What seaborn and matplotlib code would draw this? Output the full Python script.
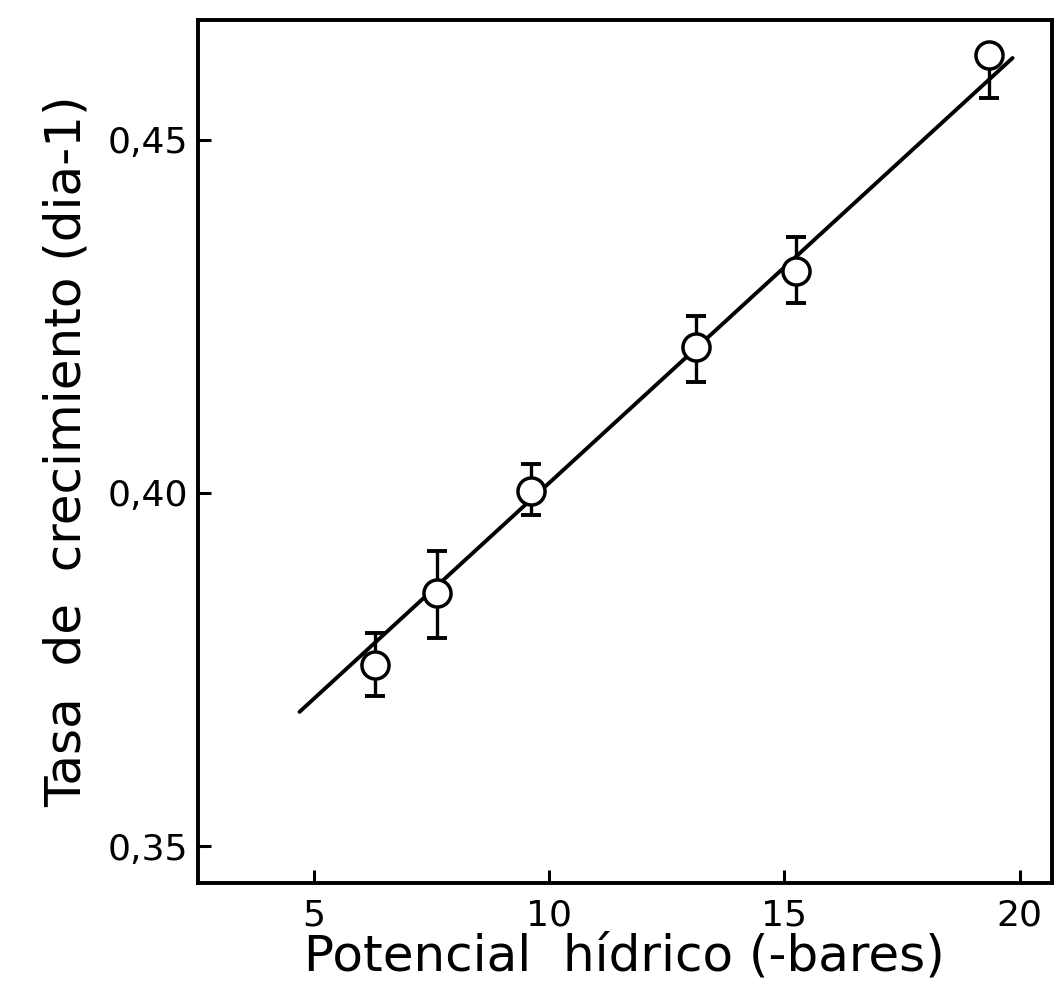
import matplotlib
matplotlib.use("Agg")
import matplotlib.pyplot as plt
import seaborn as sns
import numpy as np
import pandas as pd

# ---- data ----
potencial = [6.3, 7.63, 9.61, 13.13, 15.25, 19.35]          # -bares
tasa = [0.3757, 0.3858, 0.4003, 0.4207, 0.4314, 0.4620]     # dia-1
err_low = [0.0045, 0.0063, 0.0034, 0.0050, 0.0045, 0.0060]
err_high = [0.0045, 0.0060, 0.0038, 0.0044, 0.0049, 0.0000]

fit_x = [4.70, 19.85]
fit_y = [0.3690, 0.4616]

x_ticks = [5, 10, 15, 20]
x_ticklabels = ["5", "10", "15", "20"]
y_ticks = [0.35, 0.40, 0.45]
y_ticklabels = ["0,35", "0,40", "0,45"]

xlabel = "Potencial  hídrico (-bares)"
ylabel = "Tasa  de  crecimiento (dia-1)"

# ---- figure ----
sns.set_theme(style="ticks")
plt.rcParams["font.family"] = ["DejaVu Sans"]

fig = plt.figure(figsize=(10.58, 9.93), dpi=100)
ax = fig.add_axes([0.187, 0.111, 0.807, 0.869])

df_pts = pd.DataFrame({"x": potencial, "y": tasa})
df_fit = pd.DataFrame({"x": fit_x, "y": fit_y})

sns.lineplot(data=df_fit, x="x", y="y", ax=ax, color="black", linewidth=2.8,
             zorder=2)
ax.errorbar(potencial, tasa, yerr=[err_low, err_high], fmt="none",
            ecolor="black", elinewidth=2.4, capsize=7, capthick=2.8, zorder=3)
sns.scatterplot(data=df_pts, x="x", y="y", ax=ax, s=380, marker="o",
                facecolor="white", edgecolor="black", linewidth=2.5, zorder=4)

ax.set_xlim(2.54, 20.68)
ax.set_ylim(0.3448, 0.467)

ax.set_xticks(x_ticks)
ax.set_xticklabels(x_ticklabels)
ax.set_yticks(y_ticks)
ax.set_yticklabels(y_ticklabels)

ax.tick_params(axis="both", direction="in", length=9.5, width=2.2,
               colors="black", labelsize=26)
ax.tick_params(axis="x", pad=11, top=False)
ax.tick_params(axis="y", pad=7, right=False)

for side in ["left", "right", "top", "bottom"]:
    ax.spines[side].set_linewidth(2.8)
    ax.spines[side].set_color("black")

ax.set_xlabel(xlabel, fontsize=36, labelpad=0, color="black")
ax.set_ylabel(ylabel, fontsize=36, labelpad=12, color="black")

fig.savefig("out.png", dpi=100, facecolor="white")
